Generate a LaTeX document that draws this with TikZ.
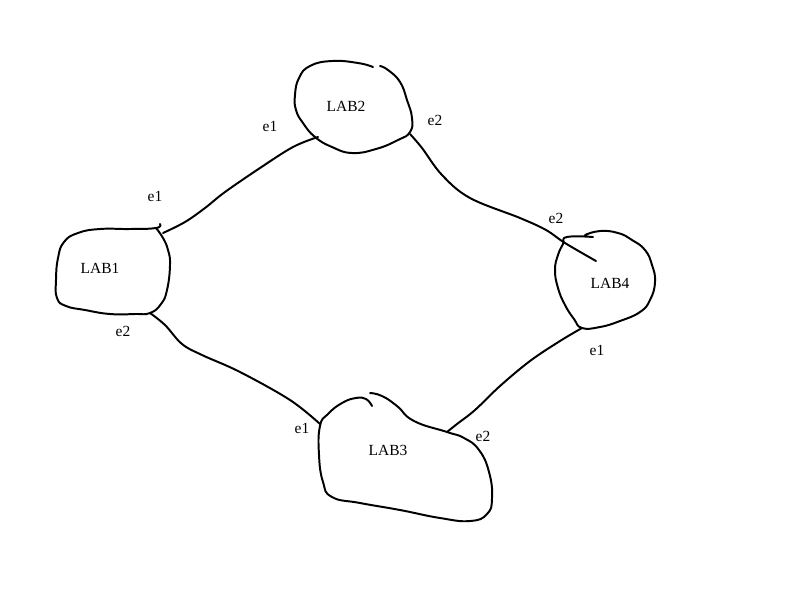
\documentclass[tikz,border=0pt]{standalone}
\usepackage{fontspec}
\setmainfont{Liberation Serif}
\tikzset{
  blob/.style={line width=1.4pt, line cap=round, line join=round},
  wire/.style={line width=1.4pt, line cap=round},
  lab/.style={font=\fontsize{11}{13}\selectfont, inner sep=0pt},
  port/.style={font=\fontsize{11}{13}\selectfont, inner sep=0pt}
}
\begin{document}
\begin{tikzpicture}[x=0.025cm,y=-0.025cm]
\useasboundingbox (0,0) rectangle (800,600);
%\draw (0,0) rectangle (800,600);

% labels
\draw (100,268) node[lab] (lab1) {LAB1};
\draw (346,106) node[lab] (lab2) {LAB2};
\draw (388,450) node[lab] (lab3) {LAB3};
\draw (610,283) node[lab] (lab4) {LAB4};

\draw (155,196) node[port] (l1e1) {e1};
\draw (123,331) node[port] (l1e2) {e2};
\draw (270,126) node[port] (l2e1) {e1};
\draw (435,120) node[port] (l2e2) {e2};
\draw (302,428) node[port] (l3e1) {e1};
\draw (483,436) node[port] (l3e2) {e2};
\draw (597,350) node[port] (l4e1) {e1};
\draw (556,218) node[port] (l4e2) {e2};

% attachment points
\coordinate (p1a) at (163,233);
\coordinate (p1b) at (150,313);
\coordinate (p2a) at (318,137);
\coordinate (p2b) at (410,134);
\coordinate (p3a) at (320,424);
\coordinate (p3b) at (447,432);
\coordinate (p4a) at (582,328);
\coordinate (p4b) at (596,261);

% blobs
\draw[blob] plot[smooth,tension=0.8] coordinates {(160,224) (156,228) (130,229) (100,229)
  (78,233) (64,242) (58,258) (56,280) (57,298) (66,306) (85,310) (110,314) (135,314)
  (150,313) (161,304) (167,290) (170,265) (168,250) (163,238) (156,228)};
\draw[blob] plot[smooth,tension=0.8] coordinates {(373,67) (358,63) (332,61) (310,66)
  (299,78) (295,95) (296,110) (303,123) (315,137) (332,147) (352,153) (376,149)
  (398,140) (410,132) (412,118) (407,100) (400,82) (388,70) (380,66)};
\draw[blob] plot[smooth,tension=0.8] coordinates {(370,393) (382,396) (397,406)
  (414,421) (447,432) (464,438) (479,450) (489,472) (492,498) (487,514) (470,521)
  (440,518) (400,510) (360,503) (332,497) (323,482) (319,455) (320,426) (328,414)
  (342,403) (356,398) (366,399) (372,406)};
\draw[blob] plot[smooth,tension=0.8] coordinates {(585,235) (600,231) (618,233)
  (632,240) (645,250) (652,265) (655,282) (650,300) (640,312) (620,321) (600,327)
  (582,328) (574,319) (565,305) (558,288) (555,270) (558,255) (563,244) (567,237)
  (593,237)};

% links
\draw[wire] plot[smooth,tension=0.6] coordinates {(p1a) (185,222) (205,208) (225,192)
  (260,168) (293,147) (p2a)};
\draw[wire] plot[smooth,tension=0.6] coordinates {(p1b) (165,325) (182,344) (202,355)
  (240,372) (290,400) (p3a)};
\draw[wire] plot[smooth,tension=0.6] coordinates {(p2b) (422,148) (442,175) (470,198)
  (520,218) (546,230) (565,243) (p4b)};
\draw[wire] plot[smooth,tension=0.6] coordinates {(p4a) (560,341) (530,361) (500,386)
  (475,410) (457,424) (p3b)};
\end{tikzpicture}
\end{document}
